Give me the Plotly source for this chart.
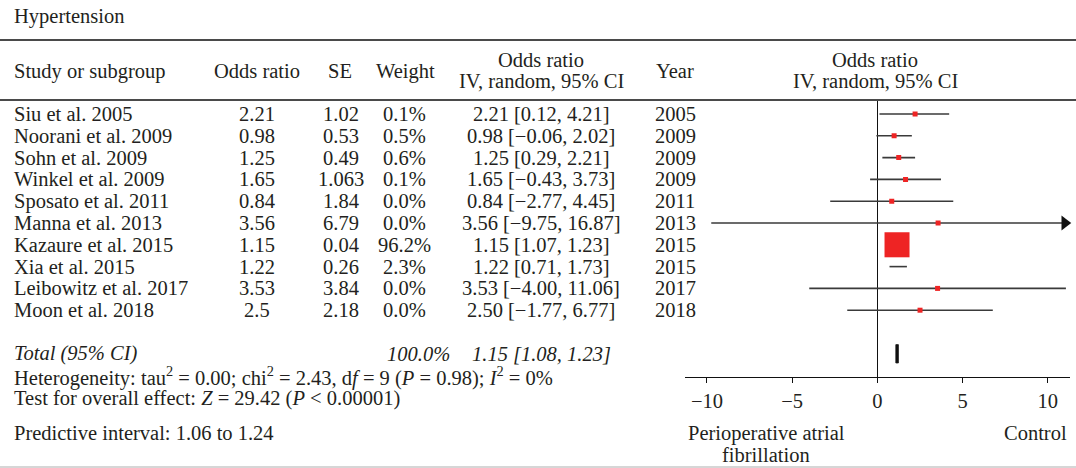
import plotly.graph_objects as go

# ---------------- data ----------------
studies = ["Siu et al. 2005", "Noorani et al. 2009", "Sohn et al. 2009", "Winkel et al. 2009",
           "Sposato et al. 2011", "Manna et al. 2013", "Kazaure et al. 2015", "Xia et al. 2015",
           "Leibowitz et al. 2017", "Moon et al. 2018"]
odds_label = ["2.21", "0.98", "1.25", "1.65", "0.84", "3.56", "1.15", "1.22", "3.53", "2.5"]
se_label = ["1.02", "0.53", "0.49", "1.063", "1.84", "6.79", "0.04", "0.26", "3.84", "2.18"]
weight_label = ["0.1%", "0.5%", "0.6%", "0.1%", "0.0%", "0.0%", "96.2%", "2.3%", "0.0%", "0.0%"]
years = ["2005", "2009", "2009", "2009", "2011", "2013", "2015", "2015", "2017", "2018"]
est = [2.21, 0.98, 1.25, 1.65, 0.84, 3.56, 1.15, 1.22, 3.53, 2.50]
lower = [0.12, -0.06, 0.29, -0.43, -2.77, -9.75, 1.07, 0.71, -4.00, -1.77]
upper = [4.21, 2.02, 2.21, 3.73, 4.45, 16.87, 1.23, 1.73, 11.06, 6.77]
weights = [0.1, 0.5, 0.6, 0.1, 0.0, 0.0, 96.2, 2.3, 0.0, 0.0]
total_est, total_lo, total_hi = 1.15, 1.08, 1.23
tick_vals = [-10, -5, 0, 5, 10]

# ---------------- layout helpers ----------------
W, H = 1076, 468
FONT = "Liberation Serif"
FS = 20.5
TXT = "#231f20"

XMIN, XMAX = -11.29, 11.27
ROW0, ROWH = 114, 21.8          # pixel y of first row, row spacing
Y_TOP_PX, Y_BOT_PX = 100, 377   # forest panel vertical extent
y_top = (Y_TOP_PX - ROW0) / ROWH
y_bot = (Y_BOT_PX - ROW0) / ROWH

def px(x):
    return x / W

def py(y):
    return 1 - y / H

fig = go.Figure()

n = len(studies)
rows = list(range(n))

# CI lines (clipped to axis)
for i in rows:
    lo = max(lower[i], XMIN)
    hi = min(upper[i], XMAX)
    fig.add_trace(go.Scatter(x=[lo, hi], y=[i, i], mode="lines",
                             line=dict(color="#3a3a3a", width=1.6),
                             hoverinfo="skip", showlegend=False))
    if upper[i] > XMAX:
        fig.add_trace(go.Scatter(x=[XMAX - 0.28], y=[i], mode="markers",
                                 marker=dict(symbol="triangle-right", size=13, color="#111",
                                             opacity=1),
                                 cliponaxis=False, hoverinfo="skip", showlegend=False))

# point estimates (squares); Xia's tiny square is hidden under its line in the reference
sizes = [25 if w > 50 else 5 for w in weights]
vis_idx = [i for i in rows if not (1 < weights[i] < 50)]
fig.add_trace(go.Scatter(x=[est[i] for i in vis_idx], y=vis_idx, mode="markers",
                         marker=dict(symbol="square", size=[sizes[i] for i in vis_idx],
                                     color="#ee2424", opacity=1, line=dict(width=0)),
                         hoverinfo="skip", showlegend=False))

# total (pooled) estimate: very narrow, drawn as a thin bar spanning its CI
ty = 11
fig.add_trace(go.Scatter(x=[total_lo, total_hi, total_hi, total_lo, total_lo],
                         y=[ty - 0.42, ty - 0.42, ty + 0.42, ty + 0.42, ty - 0.42],
                         mode="lines", fill="toself", fillcolor="#111",
                         line=dict(color="#111", width=0.8),
                         hoverinfo="skip", showlegend=False))

fig.update_xaxes(range=[XMIN, XMAX], domain=[px(685), px(1069.5)],
                 showline=True, linecolor="#111", linewidth=1.2,
                 ticks="outside", ticklen=5, tickcolor="#111", tickwidth=1.2,
                 tickvals=tick_vals, ticktext=[("\u2212" + str(-v)) if v < 0 else str(v) for v in tick_vals],
                 tickfont=dict(family=FONT, size=FS, color=TXT),
                 showgrid=False, zeroline=True, zerolinecolor="#111", zerolinewidth=1.2,
                 fixedrange=True)
fig.update_yaxes(range=[y_bot, y_top], domain=[py(Y_BOT_PX), py(Y_TOP_PX)],
                 showticklabels=False, showgrid=False, zeroline=False, showline=False,
                 ticks="", fixedrange=True)

ann = []

def text(x, y, s, xanchor="left", italic=False, size=FS):
    if italic:
        s = "<i>" + s + "</i>"
    ann.append(dict(x=px(x), y=py(y), xref="paper", yref="paper", text=s,
                    showarrow=False, xanchor=xanchor, yanchor="middle",
                    font=dict(family=FONT, size=size, color=TXT)))

# title
text(12, 17, "Hypertension")
# header
text(12, 71, "Study or subgroup")
text(257, 71, "Odds ratio", "center")
text(340, 71, "SE", "center")
text(405, 71, "Weight", "center")
text(541, 60, "Odds ratio", "center")
text(541, 81, "IV, random, 95% CI", "center")
text(675, 71, "Year", "center")
text(875, 60, "Odds ratio", "center")
text(875, 81, "IV, random, 95% CI", "center")

# study rows
for i in rows:
    yy = ROW0 + ROWH * i
    text(12, yy, studies[i])
    text(257, yy, odds_label[i], "center")
    text(341, yy, se_label[i], "center")
    text(404, yy, weight_label[i], "center")
    ci = f"{est[i]:.2f} [{lower[i]:.2f}, {upper[i]:.2f}]".replace("-", "\u2212")
    text(541, yy, ci, "center")
    text(675, yy, years[i], "center")

# total and footnotes
ytot = ROW0 + ROWH * ty
text(12, ytot, "Total (95% CI)", italic=True)
text(452, ytot, "100.0%", "right", italic=True)
text(541, ytot, f"{total_est:.2f} [{total_lo:.2f}, {total_hi:.2f}]", "center", italic=True)
text(12, 376, "Heterogeneity: tau<sup>2</sup> = 0.00; chi<sup>2</sup> = 2.43, d<i>f</i> = 9 (<i>P</i> = 0.98); <i>I</i><sup>2</sup> = 0%")
text(12, 398, "Test for overall effect: <i>Z</i> = 29.42 (<i>P</i> &lt; 0.00001)")
text(12, 433, "Predictive interval: 1.06 to 1.24")
text(766, 433, "Perioperative atrial", "center")
text(766, 455, "fibrillation", "center")
text(1069, 433, "Control", "right")

fig.update_layout(
    annotations=ann,
    width=W, height=H,
    margin=dict(l=0, r=0, t=0, b=0),
    paper_bgcolor="white", plot_bgcolor="white",
    showlegend=False,
    shapes=[
        dict(type="line", xref="paper", yref="paper", x0=0, x1=1, y0=py(40), y1=py(40),
             line=dict(color="#4a4a4a", width=2)),
        dict(type="line", xref="paper", yref="paper", x0=0, x1=1, y0=py(100), y1=py(100),
             line=dict(color="#4a4a4a", width=2)),
        dict(type="line", xref="paper", yref="paper", x0=0, x1=1, y0=py(467), y1=py(467),
             line=dict(color="#c8c8c8", width=1.5)),
    ],
)

fig.write_html("out.html", config={"displayModeBar": False},
               post_script="document.body.style.margin='0';document.body.style.overflow='hidden';")
